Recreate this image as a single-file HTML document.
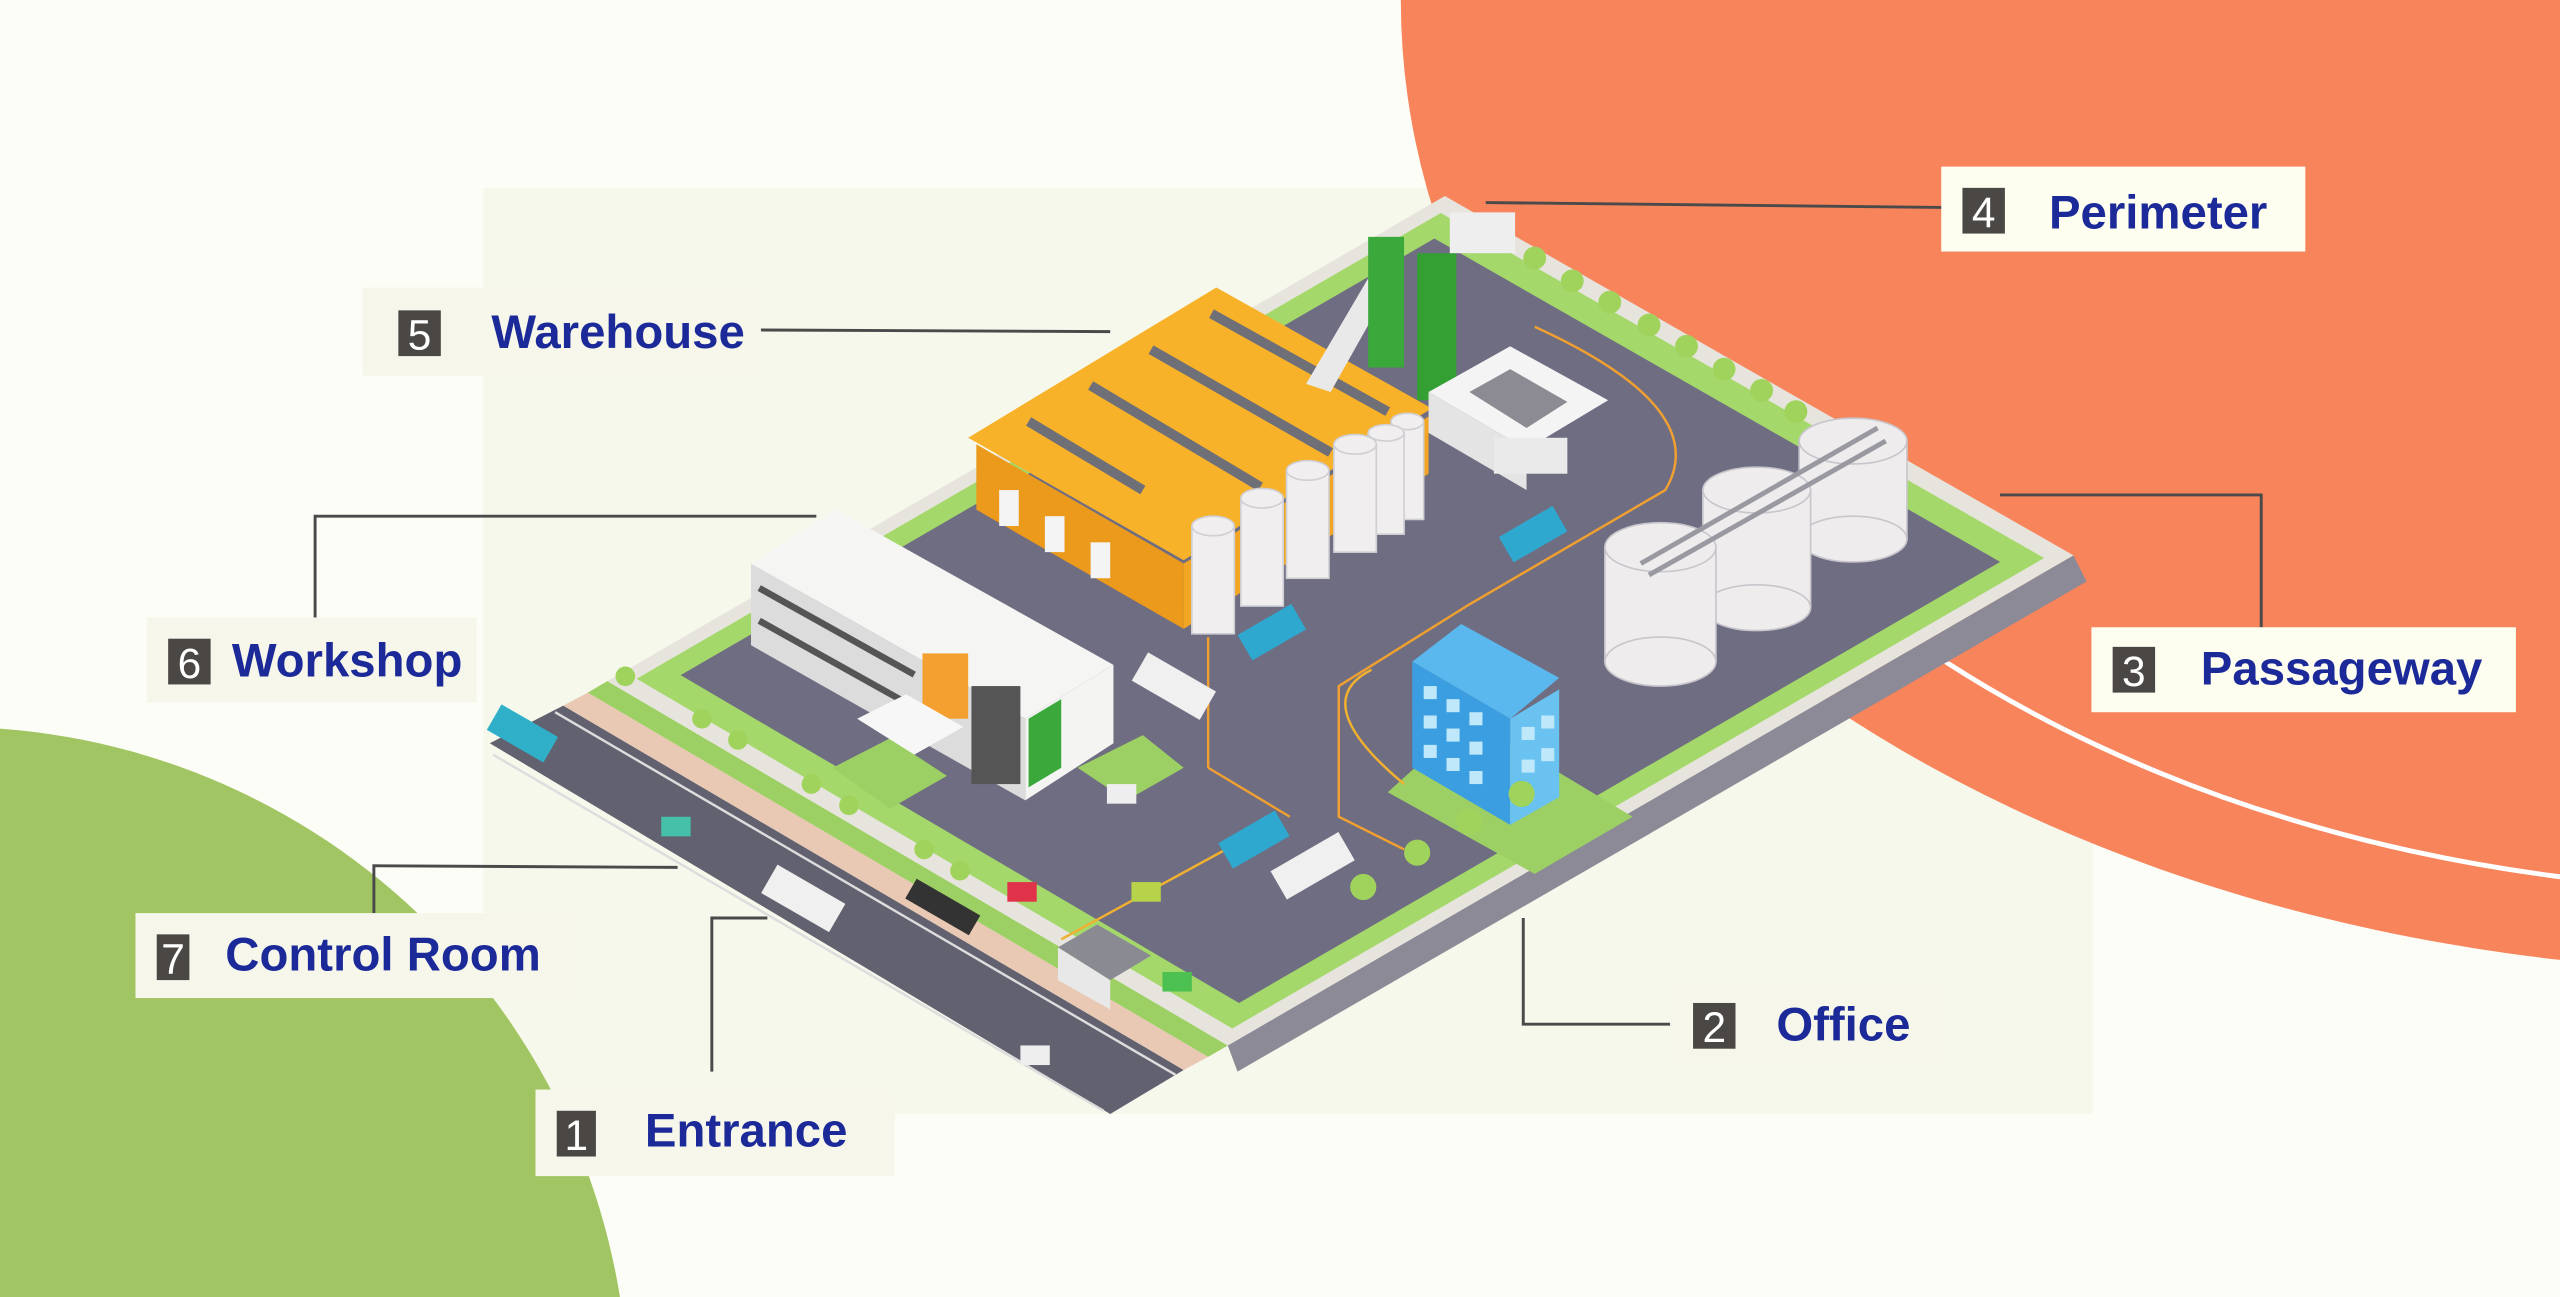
<!DOCTYPE html>
<html><head><meta charset="utf-8"><style>
html,body{margin:0;padding:0;background:#fdfdf7;width:2560px;height:1297px;overflow:hidden;position:relative;}
svg{display:block;position:absolute;left:0;top:0;}
text{font-family:"Liberation Sans",sans-serif;}
.lb{font-weight:bold;fill:#1b2a98;font-size:29px;}
.nm{fill:#fff;font-size:26px;}
.cn{stroke:#4a4a4a;stroke-width:1.8;fill:none;}
</style></head><body>
<svg width="2560" height="1297" viewBox="0 0 1568 794" preserveAspectRatio="none" xmlns="http://www.w3.org/2000/svg">
<defs><clipPath id="lowc"><rect x="1150" y="405" width="500" height="400"/></clipPath></defs>
<rect x="0" y="0" width="1568" height="794" fill="#fdfdf7"/>
<rect x="296" y="115" width="986" height="567" fill="#f6f8ec"/>
<ellipse cx="1700" cy="0" rx="842" ry="595" fill="#f8845c"/>
<ellipse cx="1700" cy="0" rx="760" ry="545" fill="none" stroke="#fff" stroke-width="3" clip-path="url(#lowc)"/>
<circle cx="-30" cy="860" r="415" fill="#a2c563"/>

<polygon points="300,455 345,432 725,655 680,682" fill="#62616f"/>
<line x1="302" y1="462" x2="676" y2="680" stroke="#ddd" stroke-width="1.5"/>
<line x1="340" y1="436" x2="720" y2="658" stroke="#ddd" stroke-width="1.5"/>
<polygon points="345,432 360,424 740,647 725,655" fill="#e9c9b4"/>
<polygon points="360,424 372,417 752,640 740,647" fill="#9dd064"/>
<polygon points="752,640 1270,340 1278,356 758,656" fill="#8b8a96"/>
<polygon points="372,417 885,120 1270,340 752,640" fill="#e6e4dc"/>
<polygon points="372,417 885,120 1270,340 752,640" fill="#a5d86b" transform="translate(821,380) scale(0.96) translate(-821,-380)"/>
<polygon points="372,417 885,120 1270,340 752,640" fill="#6f6d82" transform="translate(821,380) scale(0.9) translate(-821,-380)"/>
<polygon points="900,440 1000,500 940,535 850,485" fill="#9dd064"/>
<polygon points="510,470 545,452 580,475 545,495" fill="#9dd064"/>
<polygon points="660,470 700,450 725,470 690,490" fill="#9dd064"/>
<path d="M740,390 L740,470 M740,470 L790,500 M940,200 Q1050,250 1020,300 L900,370 L820,420 L820,500 L860,520" stroke="#f0a030" stroke-width="1.5" fill="none"/>
<path d="M860,480 Q800,430 840,410 M650,575 L760,515" stroke="#f0b030" stroke-width="1.5" fill="none"/>

<polygon points="598,272 725,345 725,385 598,312" fill="#ec9a1c"/>
<polygon points="725,345 875,255 875,290 725,385" fill="#f2a624"/>
<polygon points="593,268 745,176 877,250 725,343" fill="#f8b22a"/>
<g stroke="#6f6f78" stroke-width="6">
<line x1="742" y1="192" x2="850" y2="252"/><line x1="705" y1="214" x2="815" y2="277"/>
<line x1="668" y1="236" x2="772" y2="298"/><line x1="630" y1="258" x2="700" y2="300"/></g>
<g fill="#f4f4f4"><rect x="612" y="300" width="12" height="22"/><rect x="640" y="316" width="12" height="22"/><rect x="668" y="332" width="12" height="22"/></g>

<polygon points="800,235 850,150 860,160 815,240" fill="#e9e9e9"/>
<rect x="838" y="145" width="22" height="80" fill="#3aa83a"/>
<rect x="868" y="155" width="24" height="90" fill="#34a034"/>
<rect x="888" y="130" width="40" height="25" fill="#eeeeee"/>

<g fill="#f0eeee" stroke="#cfcfd4" stroke-width="1">
<rect x="852" y="258" width="20" height="60"/><ellipse cx="862" cy="258" rx="10" ry="5"/>
<rect x="838" y="265" width="22" height="62"/><ellipse cx="849" cy="265" rx="11" ry="5"/>
<rect x="817" y="272" width="26" height="66"/><ellipse cx="830" cy="272" rx="13" ry="6"/>
<rect x="788" y="288" width="26" height="66"/><ellipse cx="801" cy="288" rx="13" ry="6"/>
<rect x="760" y="305" width="26" height="66"/><ellipse cx="773" cy="305" rx="13" ry="6"/>
<rect x="730" y="322" width="26" height="66"/><ellipse cx="743" cy="322" rx="13" ry="6"/>
</g>
<polygon points="875,240 925,212 985,245 935,275" fill="#f4f4f4"/>
<polygon points="900,240 925,226 960,246 935,262" fill="#8c8a92"/>
<polygon points="875,240 935,275 935,300 875,265" fill="#e4e4e4"/>
<rect x="915" y="268" width="45" height="22" fill="#eaeaea"/>

<g fill="#efeced" stroke="#c8c6cc" stroke-width="1">
<rect x="1102" y="270" width="66" height="60"/><ellipse cx="1135" cy="330" rx="33" ry="14"/><ellipse cx="1135" cy="270" rx="33" ry="14"/>
<rect x="1043" y="300" width="66" height="72"/><ellipse cx="1076" cy="372" rx="33" ry="14"/><ellipse cx="1076" cy="300" rx="33" ry="14"/>
<rect x="983" y="335" width="68" height="70"/><ellipse cx="1017" cy="405" rx="34" ry="15"/><ellipse cx="1017" cy="335" rx="34" ry="15"/>
</g>
<path d="M1005,345 L1150,262 M1010,352 L1155,270" stroke="#9a98a0" stroke-width="3"/>

<polygon points="865,405 895,382 955,415 925,440" fill="#5ab8ee"/>
<polygon points="865,405 925,440 925,505 865,470" fill="#3a9ee0"/>
<polygon points="925,440 955,422 955,488 925,505" fill="#69c2f0"/>
<g fill="#bfe8fb"><rect x="872" y="420" width="8" height="8"/><rect x="886" y="428" width="8" height="8"/><rect x="900" y="436" width="8" height="8"/><rect x="872" y="438" width="8" height="8"/><rect x="886" y="446" width="8" height="8"/><rect x="900" y="454" width="8" height="8"/><rect x="872" y="456" width="8" height="8"/><rect x="886" y="464" width="8" height="8"/><rect x="900" y="472" width="8" height="8"/><rect x="932" y="445" width="8" height="8"/><rect x="944" y="438" width="8" height="8"/><rect x="932" y="465" width="8" height="8"/><rect x="944" y="458" width="8" height="8"/></g>

<polygon points="460,345 512,312 682,407 628,440" fill="#f5f5f3"/>
<polygon points="460,345 628,440 628,490 460,395" fill="#dcdcdc"/>
<polygon points="628,440 682,407 682,455 628,490" fill="#f4f4f2"/>
<g stroke="#555" stroke-width="4"><line x1="465" y1="360" x2="560" y2="413"/><line x1="465" y1="380" x2="560" y2="433"/></g>
<rect x="565" y="400" width="28" height="40" fill="#f4a030"/>
<rect x="595" y="420" width="30" height="60" fill="#555"/>
<polygon points="630,440 650,428 650,470 630,482" fill="#3aa83a"/>
<polygon points="525,440 555,425 590,445 560,462" fill="#f7f7f7"/>

<g fill="#9fd35c">
<circle cx="940" cy="158" r="7"/><circle cx="963" cy="172" r="7"/><circle cx="986" cy="185" r="7"/><circle cx="1010" cy="199" r="7"/><circle cx="1033" cy="212" r="7"/><circle cx="1056" cy="226" r="7"/><circle cx="1079" cy="239" r="7"/><circle cx="1100" cy="252" r="7"/>
<circle cx="383" cy="414" r="6"/><circle cx="430" cy="440" r="6"/><circle cx="452" cy="453" r="6"/><circle cx="497" cy="480" r="6"/><circle cx="520" cy="493" r="6"/><circle cx="566" cy="520" r="6"/><circle cx="588" cy="533" r="6"/>
<circle cx="835" cy="543" r="8"/><circle cx="868" cy="522" r="8"/><circle cx="900" cy="503" r="8"/><circle cx="932" cy="486" r="8"/>
</g>
<g>
<rect x="300" y="440" width="40" height="18" fill="#2fb0c8" transform="rotate(30 320 449)"/>
<rect x="468" y="540" width="48" height="20" fill="#f0f0f0" transform="rotate(30 492 550)"/>
<rect x="695" y="410" width="48" height="20" fill="#f0f0f0" transform="rotate(30 719 420)"/>
<rect x="760" y="378" width="38" height="18" fill="#2fa8d0" transform="rotate(-30 779 387)"/>
<rect x="920" y="318" width="38" height="18" fill="#2fa8d0" transform="rotate(-30 939 327)"/>
<rect x="748" y="505" width="40" height="18" fill="#2fa8d0" transform="rotate(-30 768 514)"/>
<rect x="780" y="520" width="48" height="20" fill="#f0f0f0" transform="rotate(-30 804 530)"/>
<rect x="617" y="540" width="18" height="12" fill="#e0334a"/>
<rect x="693" y="540" width="18" height="12" fill="#b7d34a"/>
<rect x="712" y="595" width="18" height="12" fill="#4cc050"/>
<rect x="405" y="500" width="18" height="12" fill="#46c0a8"/>
<rect x="625" y="640" width="18" height="12" fill="#eee"/>
<rect x="678" y="480" width="18" height="12" fill="#eee"/>
</g>
<polygon points="648,580 672,566 705,585 680,600" fill="#8a8a92"/>
<polygon points="648,580 680,600 680,618 648,600" fill="#e8e8e8"/>
<rect x="555" y="548" width="45" height="14" fill="#333" transform="rotate(30 577 555)"/>

<path class="cn" d="M910,124 L1190,127"/>
<path class="cn" d="M466,202 L680,203"/>
<path class="cn" d="M193,378 L193,316 L500,316"/>
<path class="cn" d="M1385,384 L1385,303 L1225,303"/>
<path class="cn" d="M229,559 L229,530 L415,531"/>
<path class="cn" d="M436,656 L436,562 L470,562"/>
<path class="cn" d="M1023,627 L933,627 L933,562"/>

<rect x="1189" y="102" width="223" height="52" fill="#fdfdf0"/>
<rect x="1202" y="115" width="26" height="28" fill="#4b4745"/><text class="nm" x="1215" y="139" text-anchor="middle">4</text>
<text class="lb" x="1255" y="140">Perimeter</text>

<rect x="222" y="176" width="244" height="54" fill="#f6f7ea"/>
<rect x="244" y="190" width="26" height="28" fill="#4b4745"/><text class="nm" x="257" y="214" text-anchor="middle">5</text>
<text class="lb" x="301" y="213">Warehouse</text>

<rect x="90" y="378" width="202" height="52" fill="#f6f7ea"/>
<rect x="103" y="391" width="26" height="28" fill="#4b4745"/><text class="nm" x="116" y="415" text-anchor="middle">6</text>
<text class="lb" x="142" y="414">Workshop</text>

<rect x="1281" y="384" width="260" height="52" fill="#fdfdf0"/>
<rect x="1294" y="396" width="26" height="28" fill="#4b4745"/><text class="nm" x="1307" y="420" text-anchor="middle">3</text>
<text class="lb" x="1348" y="419">Passageway</text>

<rect x="83" y="559" width="270" height="52" fill="#f6f7ea"/>
<rect x="96" y="572" width="20" height="28" fill="#4b4745"/><text class="nm" x="106" y="596" text-anchor="middle">7</text>
<text class="lb" x="138" y="594">Control Room</text>

<rect x="328" y="667" width="220" height="53" fill="#f6f7ea"/>
<rect x="341" y="680" width="24" height="28" fill="#4b4745"/><text class="nm" x="353" y="704" text-anchor="middle">1</text>
<text class="lb" x="395" y="702">Entrance</text>

<rect x="1023" y="603" width="167" height="49" fill="#f6f7ea"/>
<rect x="1037" y="614" width="26" height="28" fill="#4b4745"/><text class="nm" x="1050" y="638" text-anchor="middle">2</text>
<text class="lb" x="1088" y="637">Office</text>
</svg>
</body></html>
